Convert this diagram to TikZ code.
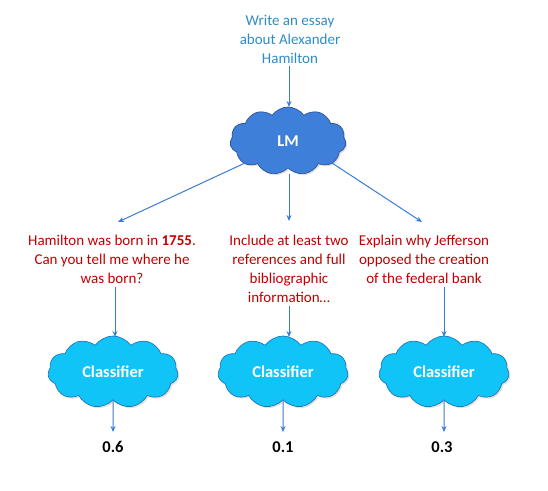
\documentclass[tikz,border=0pt]{standalone}
\usepackage{fontspec}
\setmainfont{Carlito}
\usetikzlibrary{shapes.symbols,arrows.meta,shadows}
\definecolor{topblue}{HTML}{2E8BC9}
\definecolor{lmfill}{HTML}{3D7FD9}
\definecolor{lmdraw}{HTML}{2F5597}
\definecolor{clsfill}{HTML}{10C4F8}
\definecolor{clsdraw}{HTML}{1E78B8}
\definecolor{arr}{HTML}{3A7BD5}
\definecolor{darkred}{HTML}{C00000}
\tikzset{
  cloudbox/.style={cloud, cloud puffs=11, cloud puff arc=110, aspect=1.9, draw=#1, line width=0.7pt,
    text=white, font=\bfseries\fontsize{16.5}{18}\selectfont, inner sep=0pt,
    drop shadow={opacity=0.25, shadow xshift=1.5pt, shadow yshift=-1.5pt}},
  txt/.style={align=center, font=\fontsize{15}{19}\selectfont, inner sep=0pt},
  conn/.style={draw=arr, line width=1pt, -{Stealth[length=6pt,width=5pt]}},
  val/.style={font=\bfseries\fontsize{16.5}{18}\selectfont, inner sep=0pt}
}
\begin{document}
\begin{tikzpicture}[x=1pt,y=-1pt]
\useasboundingbox (0,0) rectangle (548,490);
\node[txt, text=topblue] (prompt) at (290,39) {Write an essay\\about Alexander\\Hamilton};
\node[cloudbox=lmdraw, fill=lmfill, minimum width=116, minimum height=68] (lm) at (288,141) {LM};
\node[txt, text=darkred] (q1) at (112,259) {Hamilton was born in \textbf{1755}.\\Can you tell me where he\\was born?};
\node[txt, text=darkred] (q2) at (289,268.5) {Include at least two\\references and full\\bibliographic\\information…};
\node[txt, text=darkred] (q3) at (424,259) {Explain why Jefferson\\opposed the creation\\of the federal bank};
\node[cloudbox=clsdraw, fill=clsfill, minimum width=130, minimum height=72] (c1) at (113,372) {Classifier};
\node[cloudbox=clsdraw, fill=clsfill, minimum width=130, minimum height=72] (c2) at (283,372) {Classifier};
\node[cloudbox=clsdraw, fill=clsfill, minimum width=130, minimum height=72] (c3) at (444,372) {Classifier};
\node[val] (v1) at (113,447) {0.6};
\node[val] (v2) at (283,447) {0.1};
\node[val] (v3) at (442,447) {0.3};
\coordinate (p0) at (289,66);
\coordinate (lmt) at (289,107);
\draw[conn] (p0) -- (lmt);
\coordinate (lml) at (245,163);
\coordinate (lmr) at (332,163);
\coordinate (lmb) at (289,174);
\coordinate (a1) at (118,222);
\coordinate (a2) at (289,221);
\coordinate (a3) at (422,222);
\draw[conn] (lml) -- (a1);
\draw[conn] (lmb) -- (a2);
\draw[conn] (lmr) -- (a3);
\coordinate (b1s) at (115,287); \coordinate (b1e) at (115,337);
\coordinate (b2s) at (289,306); \coordinate (b2e) at (289,337);
\coordinate (b3s) at (444,287); \coordinate (b3e) at (444,337);
\draw[conn] (b1s) -- (b1e);
\draw[conn] (b2s) -- (b2e);
\draw[conn] (b3s) -- (b3e);
\coordinate (d1) at (113,432); \coordinate (d2) at (283,432); \coordinate (d3) at (444,432);
\draw[conn] (c1.south) -- (d1);
\draw[conn] (c2.south) -- (d2);
\draw[conn] (c3.south) -- (d3);
\end{tikzpicture}
\end{document}
